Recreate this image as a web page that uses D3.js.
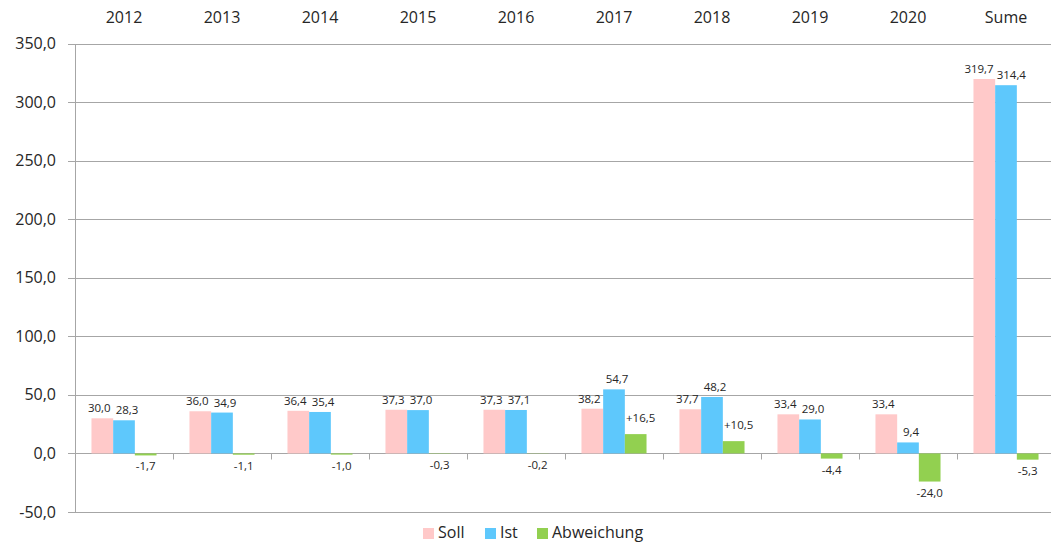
<!DOCTYPE html>
<html>
<head>
<meta charset="utf-8">
<script src="https://cdn.jsdelivr.net/npm/d3@7"></script>
<style>
  body { margin: 0; background: #fff; }
  text { font-family: "Open Sans", "Noto Sans", sans-serif; fill: #262626; }
</style>
</head>
<body>
<div id="chart"></div>
<script>
// categories and series
const categories = ["2012", "2013", "2014", "2015", "2016", "2017", "2018", "2019", "2020", "Sume"];
const soll = [30.0, 36.0, 36.4, 37.3, 37.3, 38.2, 37.7, 33.4, 33.4, 319.7];
const ist = [28.3, 34.9, 35.4, 37.0, 37.1, 54.7, 48.2, 29.0, 9.4, 314.4];
const abweichung = [-1.7, -1.1, -1.0, -0.3, -0.2, 16.5, 10.5, -4.4, -24.0, -5.3];
const seriesNames = ["Soll", "Ist", "Abweichung"];
const seriesColors = ["#ffc9c9", "#5ec8fc", "#92d050"];
const yTicks = [-50, 0, 50, 100, 150, 200, 250, 300, 350];

const width = 1051, height = 544;
// the plot runs a bit past the right edge, as in the original screenshot
const plot = {left: 75, right: 1055, top: 43.5, bottom: 512};

const fmt = v => d3.format(".1f")(Math.abs(v)).replace(".", ",");
const fmtSigned = v => (v > 0 ? "+" : v < 0 ? "-" : "") + fmt(v);
const fmtAxis = v => (v < 0 ? "-" : "") + fmt(v);

const svg = d3.select("#chart").append("svg")
  .attr("width", width)
  .attr("height", height);

const x = d3.scaleBand()
  .domain(categories)
  .range([plot.left, plot.right]);

const xs = d3.scaleBand()
  .domain(seriesNames)
  .range([0, x.bandwidth()])
  .paddingOuter(0.76)
  .paddingInner(0);

const y = d3.scaleLinear()
  .domain([-50, 350])
  .range([plot.bottom, plot.top]);

const px = v => Math.round(v) + 0.5;

// gridlines
svg.append("g")
  .selectAll("line")
  .data(yTicks)
  .join("line")
  .attr("x1", plot.left - 7)
  .attr("x2", width)
  .attr("y1", d => px(y(d)))
  .attr("y2", d => px(y(d)))
  .attr("stroke", "#a6a6a6");

// y axis line
svg.append("line")
  .attr("x1", px(plot.left))
  .attr("x2", px(plot.left))
  .attr("y1", px(y(350)))
  .attr("y2", px(y(-50)))
  .attr("stroke", "#a6a6a6");

// y labels
svg.append("g")
  .selectAll("text")
  .data(yTicks)
  .join("text")
  .attr("x", 56)
  .attr("y", d => y(d))
  .attr("dy", "0.35em")
  .attr("text-anchor", "end")
  .style("font-size", "16px")
  .text(fmtAxis);

// category ticks on the zero line
svg.append("g")
  .selectAll("line")
  .data(categories.slice(1))
  .join("line")
  .attr("x1", d => px(x(d)))
  .attr("x2", d => px(x(d)))
  .attr("y1", px(y(0)))
  .attr("y2", px(y(0)) + 6)
  .attr("stroke", "#a6a6a6");

// category labels on top
svg.append("g")
  .selectAll("text")
  .data(categories)
  .join("text")
  .attr("x", d => x(d) + x.bandwidth() / 2)
  .attr("y", 23)
  .attr("text-anchor", "middle")
  .style("font-size", "16px")
  .text(d => d);

const series = [soll, ist, abweichung];

const groups = svg.append("g")
  .selectAll("g")
  .data(categories)
  .join("g")
  .attr("transform", d => `translate(${x(d)},0)`);

const labelShift = [-3, 3, 0];

series.forEach((vals, si) => {
  const name = seriesNames[si];
  groups.append("rect")
    .attr("x", xs(name))
    .attr("width", xs.bandwidth())
    .attr("y", (d, i) => y(Math.max(0, vals[i])))
    .attr("height", (d, i) => Math.abs(y(vals[i]) - y(0)))
    .attr("fill", seriesColors[si]);

  groups.append("text")
    .attr("class", "lbl s" + si)
    .attr("x", (d, i) => xs(name) + xs.bandwidth() / 2 + labelShift[si] + (si === 2 && vals[i] > 0 ? 5 : 0))
    .attr("y", (d, i) => {
      if (vals[i] < 0) return y(vals[i]) + 15;
      return y(vals[i]) - (si === 2 ? 12 : 6);
    })
    .attr("text-anchor", "middle")
    .style("font-size", "11.5px")
    .text((d, i) => si === 2 ? fmtSigned(vals[i]) : fmt(vals[i]));
});

// push Soll and Ist labels apart where they collide
groups.each(function () {
  const g = d3.select(this);
  const a = g.select("text.s0"), b = g.select("text.s1");
  const ba = a.node().getBBox(), bb = b.node().getBBox();
  const overlap = ba.x + ba.width + 3 - bb.x;
  if (overlap > 0) {
    a.attr("x", +a.attr("x") - overlap / 2);
    b.attr("x", +b.attr("x") + overlap / 2);
  }
});

// legend
const legendItems = [
  {name: "Soll", x: 423},
  {name: "Ist", x: 485},
  {name: "Abweichung", x: 537}
];
const legend = svg.append("g");
legendItems.forEach((it, i) => {
  legend.append("rect")
    .attr("x", it.x)
    .attr("y", 528)
    .attr("width", 11)
    .attr("height", 11)
    .attr("fill", seriesColors[i]);
  legend.append("text")
    .attr("x", it.x + 15)
    .attr("y", 538)
    .style("font-size", "16px")
    .text(it.name);
});
</script>
</body>
</html>
